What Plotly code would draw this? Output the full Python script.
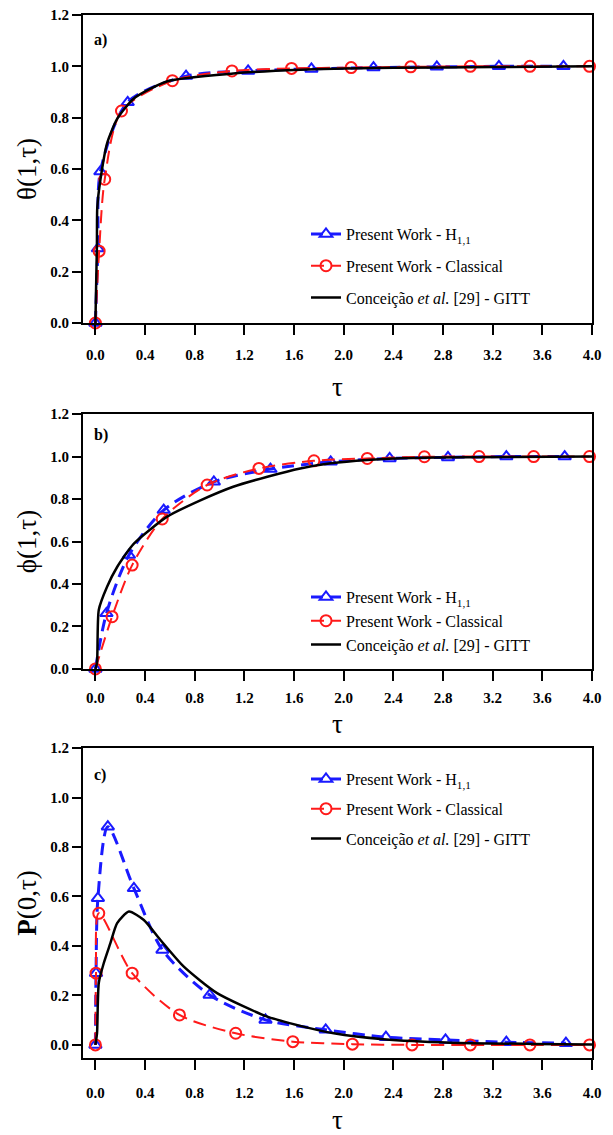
import plotly.graph_objects as go

# ---- panel a: theta(1, tau) ----
tri_a_t = [0.0, 0.02, 0.04, 0.26, 0.73, 1.23, 1.74, 2.24, 2.75, 3.25, 3.77]
tri_a_v = [0.0, 0.29, 0.59, 0.86, 0.962, 0.982, 0.99, 0.995, 0.998, 1.0, 1.0]
circ_a_t = [0.0, 0.03, 0.075, 0.21, 0.62, 1.10, 1.58, 2.06, 2.54, 3.02, 3.50, 3.98]
circ_a_v = [0.0, 0.28, 0.56, 0.826, 0.944, 0.982, 0.992, 0.995, 0.998, 1.0, 1.0, 1.0]
gitt_a_t = [0.0, 0.012, 0.015, 0.04, 0.094, 0.175, 0.31, 0.58, 1.11, 1.65, 2.4, 3.2, 4.0]
gitt_a_v = [0.0, 0.30, 0.45, 0.557, 0.70, 0.795, 0.875, 0.942, 0.972, 0.987, 0.994, 0.997, 1.0]

# ---- panel b: phi(1, tau) ----
tri_b_t = [0.0, 0.089, 0.27, 0.55, 0.954, 1.41, 1.895, 2.37, 2.84, 3.31, 3.78]
tri_b_v = [0.0, 0.262, 0.536, 0.748, 0.881, 0.941, 0.975, 0.991, 0.996, 1.0, 1.0]
circ_b_t = [0.0, 0.134, 0.296, 0.538, 0.90, 1.317, 1.76, 2.19, 2.65, 3.09, 3.53, 3.98]
circ_b_v = [0.0, 0.246, 0.489, 0.706, 0.866, 0.944, 0.98, 0.991, 0.999, 1.0, 1.0, 1.0]
gitt_b_t = [0.0, 0.013, 0.027, 0.094, 0.175, 0.31, 0.578, 0.85, 1.11, 1.385, 1.65,
            1.895, 2.19, 2.46, 3.0, 4.0]
gitt_b_v = [0.0, 0.03, 0.278, 0.387, 0.48, 0.59, 0.717, 0.795, 0.858, 0.905, 0.944,
            0.968, 0.984, 0.992, 0.997, 1.0]

# ---- panel c: P(0, tau) ----
tri_c_t = [0.0, 0.005, 0.02, 0.10, 0.31, 0.54, 0.92, 1.37, 1.855, 2.34, 2.82, 3.31, 3.79]
tri_c_v = [0.0, 0.29, 0.593, 0.882, 0.633, 0.384, 0.202, 0.101, 0.061, 0.031, 0.02, 0.011, 0.007]
circ_c_t = [0.0, 0.005, 0.027, 0.296, 0.677, 1.13, 1.59, 2.07, 2.55, 3.02, 3.50, 3.98]
circ_c_v = [0.0, 0.29, 0.532, 0.29, 0.121, 0.047, 0.013, 0.003, 0.0, 0.0, 0.0, 0.0]
gitt_c_t = [0.0, 0.013, 0.027, 0.067, 0.12, 0.175, 0.27, 0.39, 0.524, 0.712, 0.98,
            1.385, 1.65, 1.92, 2.32, 2.86, 3.53, 4.0]
gitt_c_v = [0.0, 0.047, 0.25, 0.33, 0.41, 0.492, 0.539, 0.505, 0.424, 0.316, 0.209,
            0.114, 0.077, 0.047, 0.023, 0.009, 0.004, 0.002]

x_ticks = [0.0, 0.4, 0.8, 1.2, 1.6, 2.0, 2.4, 2.8, 3.2, 3.6, 4.0]
y_ticks = [0.0, 0.2, 0.4, 0.6, 0.8, 1.0, 1.2]

names = ["Present Work - H<sub>1,1</sub>",
         "Present Work - Classical",
         "Conceição <i>et al.</i> [29] - GITT"]

SERIF = "Liberation Serif"

panels = [
    ("", "", "legend", tri_a_t, tri_a_v, circ_a_t, circ_a_v, gitt_a_t, gitt_a_v),
    ("2", "2", "legend2", tri_b_t, tri_b_v, circ_b_t, circ_b_v, gitt_b_t, gitt_b_v),
    ("3", "3", "legend3", tri_c_t, tri_c_v, circ_c_t, circ_c_v, gitt_c_t, gitt_c_v),
]

fig = go.Figure()
for xs, ys, leg, tt, tv, ct, cv, gt, gv in panels:
    fig.add_trace(go.Scatter(
        x=tt, y=tv, name=names[0], mode="lines+markers", legend=leg,
        legendgroup="h" + leg, xaxis="x" + xs, yaxis="y" + ys, cliponaxis=False,
        line=dict(color="#1a1aff", width=3, dash="12px,7px", shape="spline", smoothing=0.8),
        marker=dict(symbol="triangle-up-open", size=11, color="#1a1aff",
                    line=dict(width=2, color="#1a1aff"))))
    fig.add_trace(go.Scatter(
        x=ct, y=cv, name=names[1], mode="lines+markers", legend=leg,
        legendgroup="c" + leg, xaxis="x" + xs, yaxis="y" + ys, cliponaxis=False,
        line=dict(color="#ff1a1a", width=2, dash="13px,7px", shape="spline", smoothing=0.8),
        marker=dict(symbol="circle-open", size=11, color="#ff1a1a",
                    line=dict(width=2, color="#ff1a1a"))))
    fig.add_trace(go.Scatter(
        x=gt, y=gv, name=names[2], mode="lines", legend=leg,
        legendgroup="g" + leg, xaxis="x" + xs, yaxis="y" + ys, cliponaxis=False,
        line=dict(color="black", width=2.5, shape="spline", smoothing=0.6)))

tick_font = dict(family=SERIF, size=15, color="black", weight="bold")
title_font = dict(family=SERIF, size=27, color="black")

def xaxis_cfg(anchor, label_gap, title_gap):
    return dict(
        anchor=anchor, domain=[0, 1], range=[-0.1, 4.0], automargin=False,
        tickmode="array", tickvals=x_ticks, ticktext=[f"{v:.1f}" for v in x_ticks],
        ticks="outside", ticklen=10, tickwidth=2, tickcolor="black",
        showline=True, linewidth=2, linecolor="black", mirror=True,
        showgrid=False, zeroline=False, tickfont=tick_font,
        ticklabelstandoff=label_gap,
        title=dict(text="τ", font=title_font, standoff=title_gap),
    )

def yaxis_cfg(anchor, domain, rng, title):
    return dict(
        anchor=anchor, domain=domain, range=rng, automargin=False,
        tickmode="array", tickvals=y_ticks, ticktext=[f"{v:.1f}" for v in y_ticks],
        ticks="outside", ticklen=9, tickwidth=2, tickcolor="black",
        showline=True, linewidth=2, linecolor="black", mirror=True,
        showgrid=False, zeroline=False, tickfont=tick_font,
        title=dict(text=title, font=title_font, standoff=6),
    )

legend_common = dict(
    bgcolor="rgba(0,0,0,0)", borderwidth=0, xanchor="left", yanchor="top",
    font=dict(family=SERIF, size=16, color="black"), tracegroupgap=6,
)

# pixel geometry of the plotting area, used to place legends and panel letters
L, R, T, B = 83, 21, 15, 77
PLOT_W, PLOT_H = 613 - L - R, 1135 - T - B

def px_x(px):
    return (px - L) / PLOT_W

def px_y(py):
    return (1135 - B - py) / PLOT_H

letters = [("<b>a)</b>", 92, 40), ("<b>b)</b>", 92, 435), ("<b>c)</b>", 92, 775)]

fig.update_layout(
    width=613, height=1135,
    margin=dict(l=L, r=R, t=T, b=B, autoexpand=False),
    paper_bgcolor="white", plot_bgcolor="white",
    xaxis=xaxis_cfg("y", 7, 15),
    yaxis=yaxis_cfg("x", [0.7047, 1.0], [0, 1.2], "θ(1,τ)"),
    xaxis2=xaxis_cfg("y2", 4, 9),
    yaxis2=yaxis_cfg("x2", [0.3730, 0.6174], [0, 1.2], "ϕ(1,τ)"),
    xaxis3=xaxis_cfg("y3", 10, 18),
    yaxis3=yaxis_cfg("x3", [0.0, 0.2972], [-0.053, 1.2], "<b>P</b>(0,τ)"),
    legend=dict(legend_common, x=px_x(306), y=px_y(217), tracegroupgap=8),
    legend2=dict(legend_common, x=px_x(306), y=px_y(580), tracegroupgap=0),
    legend3=dict(legend_common, x=px_x(306), y=px_y(762)),
    showlegend=True,
    annotations=[
        dict(text=t, showarrow=False, xanchor="left", yanchor="middle",
             xref="paper", yref="paper", x=px_x(x), y=px_y(y),
             font=dict(family=SERIF, size=16, color="black"))
        for t, x, y in letters
    ],
)

fig.write_html("out.html")
